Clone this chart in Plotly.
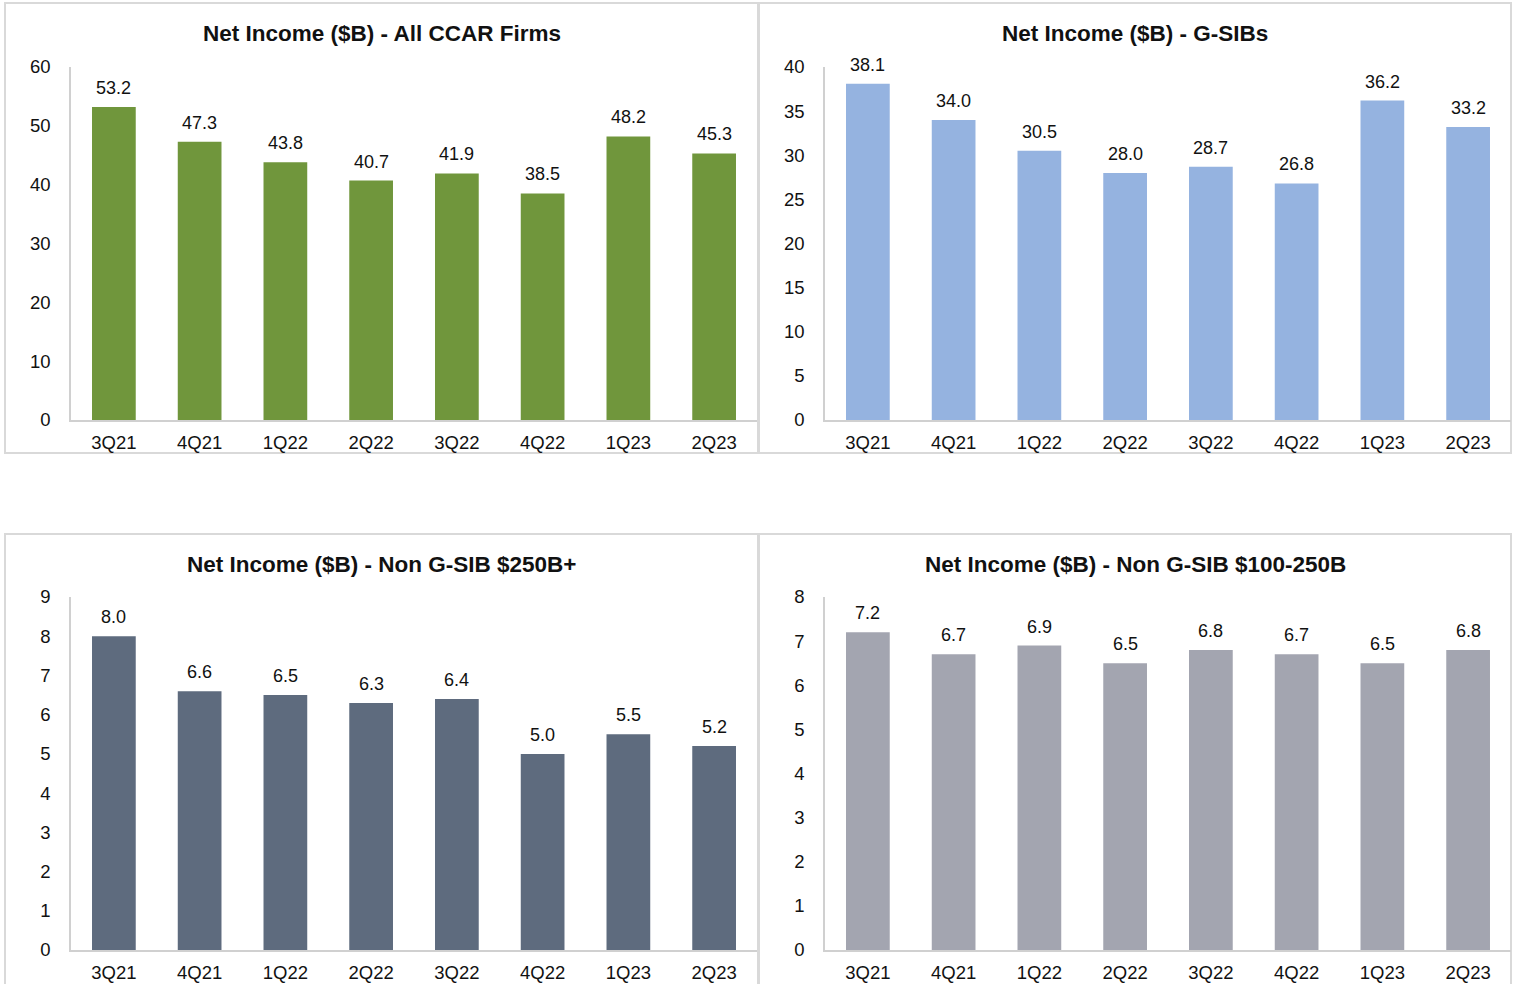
import plotly.graph_objects as go

quarters = ["3Q21", "4Q21", "1Q22", "2Q22", "3Q22", "4Q22", "1Q23", "2Q23"]
ccar_all = [53.2, 47.3, 43.8, 40.7, 41.9, 38.5, 48.2, 45.3]
gsibs = [38.1, 34.0, 30.5, 28.0, 28.7, 26.8, 36.2, 33.2]
non_gsib_250 = [8.0, 6.6, 6.5, 6.3, 6.4, 5.0, 5.5, 5.2]
non_gsib_100_250 = [7.2, 6.7, 6.9, 6.5, 6.8, 6.7, 6.5, 6.8]

titles = [
    "Net Income ($B) - All CCAR Firms",
    "Net Income ($B) - G-SIBs",
    "Net Income ($B) - Non G-SIB $250B+",
    "Net Income ($B) - Non G-SIB $100-250B",
]
series = [ccar_all, gsibs, non_gsib_250, non_gsib_100_250]
colors = ["#70963C", "#95B3E0", "#5E6B7E", "#A3A5B0"]
yranges = [60, 40, 9, 8]
ydticks = [10, 5, 1, 1]

W, H = 1517, 984
FONT = "Liberation Sans, Arial, sans-serif"

# pixel geometry (left, right of plot area; top, bottom of plot area; box)
panels = [
    dict(x0=71, x1=757, y0=67, y1=420, box=(5, 3, 758, 453)),
    dict(x0=825, x1=1511, y0=67, y1=420, box=(759, 3, 1511, 453)),
    dict(x0=71, x1=757, y0=597, y1=950, box=(5, 534, 758, 990)),
    dict(x0=825, x1=1511, y0=597, y1=950, box=(759, 534, 1511, 990)),
]

fig = go.Figure()
shapes = []
annotations = []
for i, (p, vals) in enumerate(zip(panels, series)):
    n = "" if i == 0 else str(i + 1)
    fig.add_trace(go.Bar(
        x=quarters, y=vals,
        xaxis="x" + n, yaxis="y" + n,
        marker=dict(color=colors[i], line=dict(width=0)),
        showlegend=False,
        hovertemplate="%{x}: %{y:.1f}<extra></extra>",
    ))
    for q, v in zip(quarters, vals):
        annotations.append(dict(
            x=q, y=v, xref="x" + n, yref="y" + n, text=f"{v:.1f}",
            showarrow=False, xanchor="center", yanchor="bottom", yshift=7,
            font=dict(family=FONT, size=18, color="#111111"),
        ))
    xd = [p["x0"] / W, p["x1"] / W]
    yd = [1 - p["y1"] / H, 1 - p["y0"] / H]
    fig.update_layout(**{
        "xaxis" + n: dict(
            domain=xd, anchor="y" + n, showline=True, linecolor="#D0D0D0", linewidth=1.5,
            showgrid=False, ticks="", tickfont=dict(family=FONT, size=18.5, color="#111111"),
            ticklabelstandoff=5, fixedrange=True, automargin=False,
        ),
        "yaxis" + n: dict(
            domain=yd, anchor="x" + n, range=[0, yranges[i]], dtick=ydticks[i],
            showline=True, linecolor="#D0D0D0", linewidth=1.5, showgrid=False,
            zeroline=False, ticks="", tickfont=dict(family=FONT, size=18.5, color="#111111"),
            ticklabelstandoff=15, fixedrange=True, automargin=False,
        ),
    })
    bx0, by0, bx1, by1 = p["box"]
    shapes.append(dict(
        type="rect", xref="paper", yref="paper",
        x0=bx0 / W, x1=bx1 / W, y0=1 - by1 / H, y1=1 - by0 / H,
        line=dict(color="#D9D9D9", width=2), fillcolor="rgba(0,0,0,0)", layer="below",
    ))
    annotations.append(dict(
        text="<b>" + titles[i] + "</b>", xref="paper", yref="paper",
        x=(bx0 + bx1) / 2 / W, y=1 - (by0 + 30) / H, xanchor="center", yanchor="middle",
        showarrow=False, font=dict(family=FONT, size=22.5, color="#111111"),
    ))

fig.update_layout(
    width=W, height=H,
    margin=dict(l=0, r=0, t=0, b=0, pad=0, autoexpand=False),
    paper_bgcolor="white", plot_bgcolor="white",
    bargap=0.49,
    shapes=shapes, annotations=annotations,
    font=dict(family=FONT),
)

fig.write_html(
    "out.html",
    config={"displayModeBar": False},
    post_script="document.body.style.margin='0';document.body.style.overflow='hidden';",
)
